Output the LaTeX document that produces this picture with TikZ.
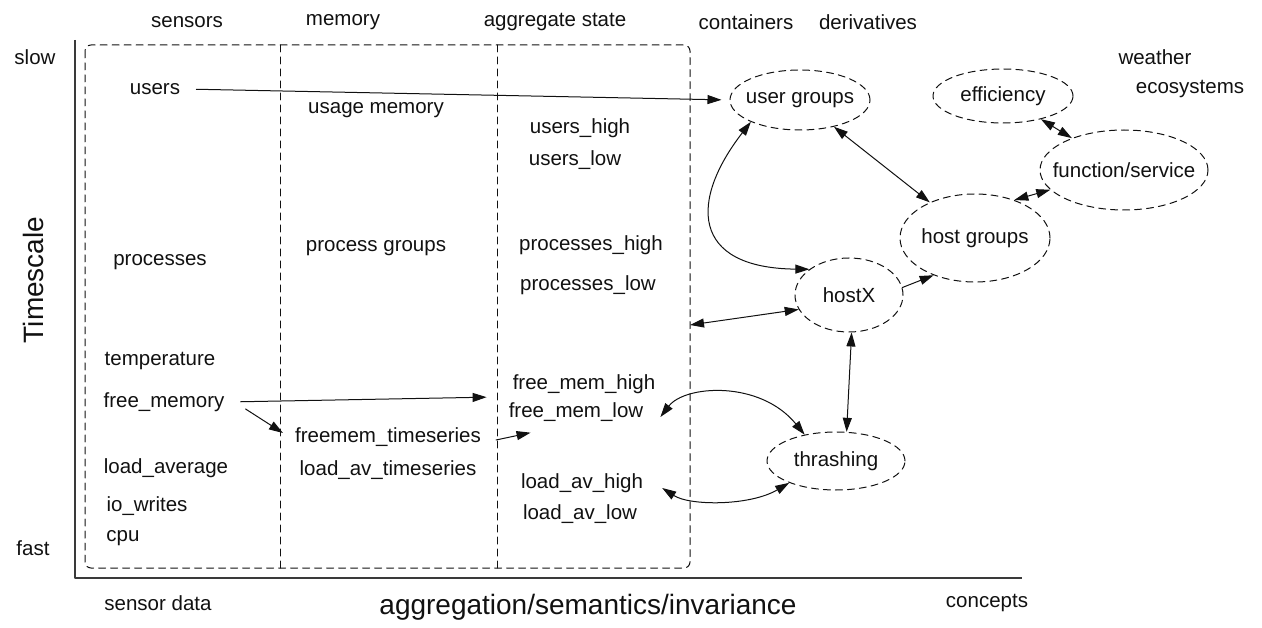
\documentclass[tikz,border=0pt]{standalone}
\usepackage{fontspec}
\setmainfont{Liberation Sans}
\usetikzlibrary{arrows.meta,calc,positioning,shapes.geometric}
\definecolor{ink}{HTML}{111111}
\definecolor{axisgray}{HTML}{3A3A3A}

\begin{document}
\begin{tikzpicture}[x=1pt,y=-1pt,line cap=round,line join=round,
  lbl/.style={font=\fontsize{20.5}{24}\selectfont,text=ink,inner sep=3pt},
  biglbl/.style={font=\fontsize{28}{32}\selectfont,text=ink,inner sep=3pt},
  dashline/.style={draw=ink,line width=1pt,dash pattern=on 7pt off 5pt},
  cloud/.style={lbl,ellipse,dashline,inner sep=0pt},
  oneway/.style={draw=ink,line width=1pt,-{Triangle[length=14pt,width=9pt]}},
  twoway/.style={draw=ink,line width=1pt,{Triangle[length=14pt,width=9pt]}-{Triangle[length=14pt,width=9pt]}}]
  \path[use as bounding box] (0,0) rectangle (1262,628);

  % axes
  \draw[axisgray,line width=1.4pt,line cap=butt] (75,40) -- (75,578) -- (1022,578);
  \node[lbl] (slow) at (35,57) {slow};
  \node[lbl] (fast) at (33,548) {fast};
  \node[biglbl,rotate=90] (tscale) at (33,280) {Timescale};
  \node[lbl] (sdata) at (158,603) {sensor data};
  \node[biglbl] (xlabel) at (588,607) {aggregation/semantics/invariance};
  \node[lbl] (concepts) at (987,603) {concepts};

  % column headings
  \node[lbl] (hsens) at (187,22) {sensors};
  \node[lbl] (hmem) at (343,22) {memory};
  \node[lbl] (hagg) at (555,22) {aggregate state};
  \node[lbl] (hcont) at (746,22) {containers};
  \node[lbl] (hderiv) at (868,22) {derivatives};
  \node[lbl] (weather) at (1155,57) {weather};
  \node[lbl] (eco) at (1190,89) {ecosystems};

  % dashed data box
  \draw[dashline,rounded corners=6pt] (85,45) rectangle (690,568);
  \draw[dashline] (280,45) -- (280,568);
  \draw[dashline] (497,45) -- (497,568);
  \coordinate (boxedge) at (690,325);

  % sensors
  \node[lbl] (users) at (155,89) {users};
  \node[lbl] (procs) at (160,262) {processes};
  \node[lbl] (temp) at (160,361) {temperature};
  \node[lbl] (fm) at (164,402) {free\_memory};
  \node[lbl] (ldavg) at (166,468) {load\_average};
  \node[lbl] (iow) at (147,506) {io\_writes};
  \node[lbl] (cpu) at (123,538) {cpu};

  % memory
  \node[lbl] (umem) at (376,110) {usage memory};
  \node[lbl] (pgrp) at (376,248) {process groups};
  \node[lbl] (fmts) at (388,437) {freemem\_timeseries};
  \node[lbl] (lats) at (388,470) {load\_av\_timeseries};

  % aggregate state
  \node[lbl] (uhigh) at (580,128) {users\_high};
  \node[lbl] (ulow) at (575,160) {users\_low};
  \node[lbl] (phigh) at (591,245) {processes\_high};
  \node[lbl] (plow) at (588,285) {processes\_low};
  \node[lbl] (fmh) at (584,384) {free\_mem\_high};
  \node[lbl] (fml) at (576,412) {free\_mem\_low};
  \node[lbl] (lah) at (582,483) {load\_av\_high};
  \node[lbl] (lal) at (580,514) {load\_av\_low};

  % concepts
  \node[cloud,minimum width=140pt,minimum height=60pt] (ugrp) at (800,100) {\makebox[0pt]{user groups}};
  \node[cloud,minimum width=140pt,minimum height=54pt] (eff) at (1003,96) {\makebox[0pt]{efficiency}};
  \node[cloud,minimum width=168pt,minimum height=80pt] (fsvc) at (1124,170) {\makebox[0pt]{function/service}};
  \node[cloud,minimum width=150pt,minimum height=88pt] (hgrp) at (975,238) {\makebox[0pt]{host groups}};
  \node[cloud,minimum width=108pt,minimum height=74pt] (hostx) at (849,295) {\makebox[0pt]{hostX}};
  \node[cloud,minimum width=138pt,minimum height=58pt] (thrash) at (836,461) {\makebox[0pt]{thrashing}};

  % connectors
  \draw[oneway,shorten <=13pt,shorten >=8pt] (users.east) -- (ugrp.west);
  \draw[oneway,shorten <=13pt,shorten >=23pt] (fm.east) -- (fmh.south west);
  \draw[oneway] ($(fm.east)+(18,7)$) -- ($(fmts.west)+(-9,-4)$);
  \draw[oneway] ($(fmts.east)+(12,3)$) -- ($(fml.south west)+(25,8)$);
  \draw[twoway] (ugrp.204) .. controls (690,200) and (690,268) .. (hostx.147);
  \draw[twoway] (ugrp) -- (hgrp);
  \draw[twoway] (eff) -- (fsvc);
  \draw[twoway] (hgrp.44) -- (fsvc.195);
  \draw[oneway] (hostx.8) -- (hgrp.222);
  \draw[twoway] (boxedge) -- (hostx.196);
  \draw[twoway] (hostx.274) -- (thrash.70);
  \draw[twoway] ($(fml.east)+(14,5)$) .. controls (685,385) and (760,380) .. (thrash.140);
  \draw[twoway] ($(lah.east)+(16,5)$) .. controls (690,506) and (750,506) .. (thrash.205);
\end{tikzpicture}
\end{document}
